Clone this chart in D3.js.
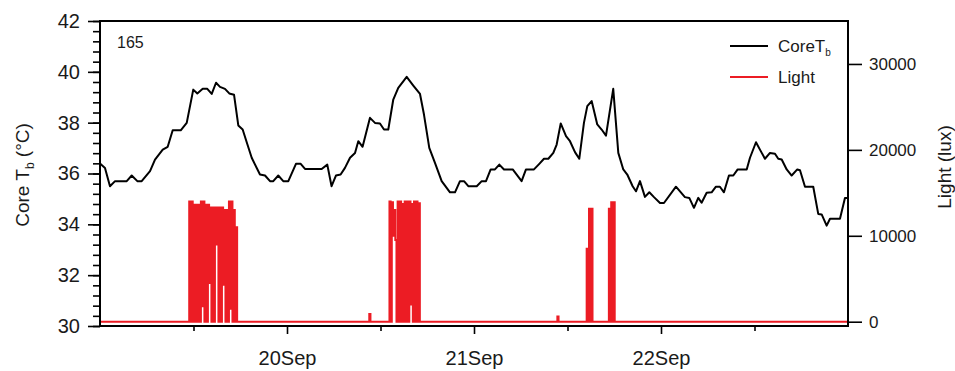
<!DOCTYPE html>
<html>
<head>
<meta charset="utf-8">
<script src="https://cdn.jsdelivr.net/npm/d3@7"></script>
<style>
  body { margin: 0; background: #fff; }
  text { font-family: "Liberation Sans", Arial, sans-serif; fill: #1a1a1a; }
</style>
</head>
<body>
<script>
// core body temperature, hours since 19 Sep 00:00
const tbHours = [0, 0.64, 1.28, 1.93, 3.43, 4.07, 4.79, 5.35, 6.42, 7.06, 8.05, 8.69, 9.33, 10.36, 11.13,
  11.97, 12.49, 13.18, 13.77, 14.34, 14.89, 15.4, 16.04, 16.59, 17.2, 17.75, 18.31, 18.83, 19.47, 20.53,
  21.18, 21.82, 22.24, 22.88, 23.52, 24.17, 25.15, 25.76, 26.31, 28.45, 29.17, 29.72, 30.28, 30.88, 31.44,
  32.09, 32.73, 33.15, 33.7, 34.65, 35.29, 35.93, 36.45, 37.0, 37.64, 38.28, 39.36, 40.21, 41.07, 41.58,
  42.26, 42.99, 43.85, 44.92, 45.56, 46.2, 46.72, 47.27, 48.35, 48.99, 49.54, 50.14, 50.69, 51.25, 51.85,
  52.97, 54.11, 54.67, 55.7, 56.38, 56.98, 57.54, 58.18, 58.61, 59.13, 59.81, 60.32, 60.96, 61.51, 62.11,
  62.54, 63.1, 63.82, 64.38, 64.94, 65.87, 66.52, 67.16, 67.67, 68.36, 68.79, 69.3, 69.94, 70.5, 71.1,
  71.87, 72.38, 73.92, 75.07, 75.63, 76.23, 76.78, 77.21, 77.86, 78.5, 79.05, 79.56, 80.08, 80.72, 81.28,
  81.84, 83.0, 83.42, 84.19, 84.7, 85.34, 85.99, 86.63, 87.05, 87.49, 88.13, 88.77, 89.49, 89.84, 90.48,
  91.54, 92.18, 92.62, 93.26, 93.69, 94.97, 95.61, 96];
const tbTemp = [36.39, 36.22, 35.5, 35.7, 35.7, 35.92, 35.7, 35.7, 36.09, 36.55, 36.94, 37.05, 37.7, 37.7, 37.99,
  39.3, 39.15, 39.33, 39.33, 39.13, 39.57, 39.41, 39.33, 39.15, 39.1, 37.89, 37.73, 37.23, 36.62, 35.96,
  35.92, 35.7, 35.7, 35.92, 35.7, 35.7, 36.38, 36.38, 36.18, 36.18, 36.35, 35.5, 35.92, 35.96, 36.22,
  36.62, 36.81, 37.27, 37.05, 38.19, 37.99, 37.97, 37.73, 37.73, 38.91, 39.37, 39.8, 39.46, 39.13, 38.32,
  37.01, 36.42, 35.7, 35.26, 35.26, 35.7, 35.7, 35.5, 35.5, 35.7, 35.7, 36.16, 36.16, 36.35, 36.16,
  36.16, 35.7, 36.16, 36.16, 36.38, 36.58, 36.58, 36.81, 37.14, 37.97, 37.47, 37.27, 36.84, 36.58, 37.99,
  38.65, 38.85, 37.93, 37.73, 37.49, 39.33, 36.81, 36.16, 35.96, 35.5, 35.3, 35.7, 35.08, 35.26, 35.07,
  34.84, 34.84, 35.48, 35.07, 35.04, 34.65, 35.04, 34.85, 35.24, 35.26, 35.48, 35.48, 35.26, 35.92, 35.92,
  36.16, 36.16, 36.62, 37.23, 36.94, 36.58, 36.81, 36.78, 36.58, 36.55, 36.16, 35.92, 36.16, 36.13, 35.48,
  35.48, 34.41, 34.39, 33.95, 34.22, 34.22, 35.04, 35.04];

// light logger: reading every 0.15 h, zero outside the listed bursts
const lightStep = 0.15;
const burstStart = [11.3, 34.41, 37.0, 58.55, 62.31, 65.16];
const burstLux = [
  [0, 14000, 0, 14000, 0, 13600, 0, 13600, 0, 13600, 0, 14000, 1800, 14000, 0, 13600, 0, 13600, 4500, 13300,
   0, 13300, 0, 13300, 9000, 13300, 0, 13300, 0, 13300, 4300, 13000, 0, 13000, 0, 14000, 1500, 14000, 0, 13000,
   0, 11000, 0],
  [0, 900, 0],
  [0, 14000, 0, 13900, 10000, 13000, 9500, 0, 14000, 0, 14000, 0, 13700, 0, 14000, 0, 14000, 0, 14000, 2000,
   13700, 0, 14000, 0, 14000, 0, 13800, 0],
  [0, 600, 0],
  [0, 8500, 0, 13150, 0, 13150, 0],
  [0, 13150, 0, 13900, 0, 13900, 0]
];

const tempTicks = [30, 32, 34, 36, 38, 40, 42];
const luxTicks = [0, 10000, 20000, 30000];

const W = 955, H = 371;
const L = 100, R = 848, T = 21, B = 326;
const t0 = new Date(2013, 8, 19);
const at = h => new Date(t0.getTime() + h * 3600e3);

const svg = d3.select('body').append('svg').attr('width', W).attr('height', H);

const x = d3.scaleTime().domain([t0, at(96)]).range([L, R]);
const yT = d3.scaleLinear().domain([30, 42]).range([B, T]);
const yL = d3.scaleLinear().domain([-500, 35000]).range([B, T]);

// light series
const light = [[0, 0]];
burstStart.forEach((s, i) => burstLux[i].forEach((v, j) => light.push([s + j * lightStep, v])));
light.push([96, 0]);

svg.append('path')
  .datum(light)
  .attr('fill', 'none').attr('stroke', '#ec1c24').attr('stroke-width', 2)
  .attr('d', d3.line().curve(d3.curveStepAfter).x(d => x(at(d[0]))).y(d => yL(d[1])));

svg.append('path')
  .datum(tbHours.map((h, i) => [h, tbTemp[i]]))
  .attr('fill', 'none').attr('stroke', '#000').attr('stroke-width', 2)
  .attr('stroke-linejoin', 'round')
  .attr('d', d3.line().x(d => x(at(d[0]))).y(d => yT(d[1])));

// axes
const style = g => {
  g.select('.domain').remove();
  g.selectAll('line').attr('stroke', '#000').attr('stroke-width', 1.6);
  g.selectAll('text').attr('fill', '#1a1a1a');
};

svg.append('g').attr('transform', `translate(${L},0)`)
  .call(d3.axisLeft(yT).tickValues(d3.range(30, 42.01, 0.4)).tickSize(7).tickFormat(''))
  .call(style);
svg.append('g').attr('transform', `translate(${L},0)`)
  .call(d3.axisLeft(yT).tickValues(tempTicks).tickSize(12).tickPadding(8))
  .call(style)
  .selectAll('text').style('font-size', '20px');

svg.append('g').attr('transform', `translate(${R},0)`)
  .call(d3.axisRight(yL).tickValues(luxTicks).tickSize(14).tickPadding(7).tickFormat(d3.format('d')))
  .call(style)
  .selectAll('text').style('font-size', '17px');

svg.append('g').attr('transform', `translate(0,${B})`)
  .call(d3.axisBottom(x).tickValues([at(12), at(36), at(60), at(84)]).tickSize(5).tickFormat(''))
  .call(style);
svg.append('g').attr('transform', `translate(0,${B})`)
  .call(d3.axisBottom(x).tickValues([at(24), at(48), at(72)]).tickSize(8).tickPadding(17)
    .tickFormat(d3.timeFormat('%d%b')))
  .call(style)
  .selectAll('text').style('font-size', '20px');

svg.append('rect').attr('x', L).attr('y', T).attr('width', R - L).attr('height', B - T)
  .attr('fill', 'none').attr('stroke', '#000').attr('stroke-width', 2);

// titles
const lt = svg.append('text').attr('transform', 'translate(29,175) rotate(-90)')
  .attr('text-anchor', 'middle').style('font-size', '19px');
lt.append('tspan').text('Core T');
lt.append('tspan').text('b').attr('dy', 5).style('font-size', '12px');
lt.append('tspan').text(' (°C)').attr('dy', -5);

svg.append('text').attr('transform', 'translate(951,167) rotate(-90)')
  .attr('text-anchor', 'middle').style('font-size', '19px').text('Light (lux)');

svg.append('text').attr('x', 117).attr('y', 48).style('font-size', '16px').text('165');

// legend
const leg = svg.append('g');
leg.append('line').attr('x1', 730).attr('x2', 768).attr('y1', 46).attr('y2', 46)
  .attr('stroke', '#000').attr('stroke-width', 2);
const lg1 = leg.append('text').attr('x', 778).attr('y', 52).style('font-size', '17px');
lg1.append('tspan').text('CoreT');
lg1.append('tspan').text('b').attr('dy', 4).style('font-size', '10px');
leg.append('line').attr('x1', 730).attr('x2', 768).attr('y1', 77).attr('y2', 77)
  .attr('stroke', '#ec1c24').attr('stroke-width', 2);
leg.append('text').attr('x', 778).attr('y', 83).style('font-size', '17px').text('Light');
</script>
</body>
</html>
